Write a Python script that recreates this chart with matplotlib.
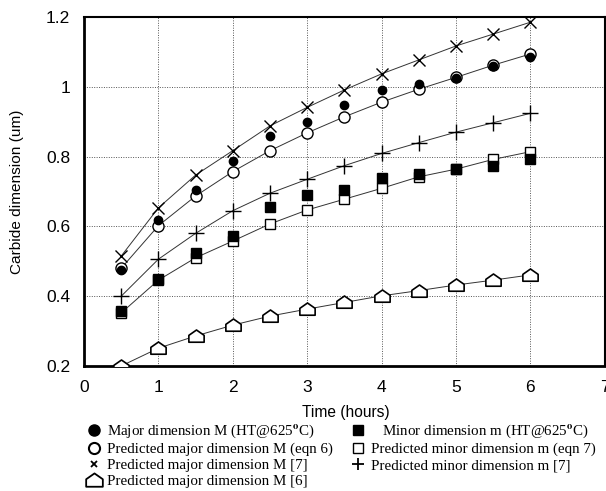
import matplotlib.pyplot as plt
from matplotlib.path import Path
from matplotlib.lines import Line2D

plt.rcParams['mathtext.fontset'] = 'stix'

time_h = [0.5, 1, 1.5, 2, 2.5, 3, 3.5, 4, 4.5, 5, 5.5, 6]

major_ht = [0.475, 0.618, 0.704, 0.787, 0.859, 0.900, 0.948, 0.991, 1.007, 1.024, 1.060, 1.084]
major_eqn6 = [0.480, 0.602, 0.687, 0.757, 0.817, 0.868, 0.914, 0.956, 0.993, 1.027, 1.062, 1.094]
major_ref7 = [0.515, 0.653, 0.747, 0.817, 0.888, 0.941, 0.991, 1.037, 1.077, 1.117, 1.151, 1.185]
major_ref6 = [0.200, 0.251, 0.286, 0.317, 0.343, 0.363, 0.382, 0.401, 0.416, 0.432, 0.446, 0.461]

minor_ht = [0.358, 0.448, 0.525, 0.572, 0.656, 0.690, 0.704, 0.738, 0.749, 0.764, 0.774, 0.793]
minor_eqn7 = [0.352, 0.446, 0.510, 0.558, 0.607, 0.647, 0.678, 0.709, 0.742, 0.764, 0.792, 0.814]
minor_ref7 = [0.400, 0.506, 0.580, 0.645, 0.695, 0.735, 0.774, 0.809, 0.840, 0.870, 0.897, 0.924]

# little house shaped marker for the [6] curve
house = Path([(-1, -0.75), (1, -0.75), (1, 0.15), (0, 0.85), (-1, 0.15), (-1, -0.75)],
             [Path.MOVETO, Path.LINETO, Path.LINETO, Path.LINETO, Path.LINETO, Path.CLOSEPOLY])

fig = plt.figure(figsize=(6.06, 4.91), dpi=100)
ax = fig.add_axes([0.1386, 0.2546, 0.8594, 0.7108])

lw = 0.7
lc = '#333333'

ax.plot(time_h, major_ref6, color=lc, lw=lw, marker=house, ms=11, mfc='white', mec='black', mew=1.2, zorder=3)
ax.plot(time_h, minor_eqn7, color=lc, lw=lw, marker='s', ms=7, mfc='white', mec='black', mew=1.0, zorder=3)
ax.plot(time_h, minor_ref7, color=lc, lw=lw, marker='+', ms=11, mec='black', mew=1.0, zorder=3)
ax.plot(time_h, major_eqn6, color=lc, lw=lw, marker='o', ms=8, mfc='white', mec='black', mew=1.0, zorder=3)
ax.plot(time_h, major_ref7, color=lc, lw=lw, marker='x', ms=9, mec='black', mew=1.0, zorder=3)
ax.plot(time_h, minor_ht, ls='none', marker='s', ms=7, color='black', zorder=4)
ax.plot(time_h, major_ht, ls='none', marker='o', ms=6, color='black', zorder=4)

ax.set_xlim(0, 7)
ax.set_ylim(0.2, 1.2)
ax.set_xticks(range(0, 8))
ax.set_yticks([0.2, 0.4, 0.6, 0.8, 1.0, 1.2])
ax.set_yticklabels(['0.2', '0.4', '0.6', '0.8', '1', '1.2'])
ax.tick_params(length=0, labelsize=12.5, pad=10)
for lab in ax.get_xticklabels() + ax.get_yticklabels():
    lab.set_fontfamily('Liberation Sans')

ax.grid(True, ls=(0, (1, 1.5)), color='#555555', lw=0.7)
ax.set_axisbelow(True)
for side in ['left', 'bottom']:
    ax.spines[side].set_linewidth(2.0)
for side in ['top', 'right']:
    ax.spines[side].set_linewidth(1.5)

fig.text(0.571, 1 - 412 / 491, 'Time (hours)', ha='center', va='center',
         fontsize=11.2, family='Liberation Sans')
fig.text(17 / 606, 0.61, 'Carbide dimension (um)', ha='center', va='center',
         rotation=90, fontsize=11.1, family='Liberation Sans')

deg = r'625$^{\mathbf{o}}$C'
left_handles = [
    Line2D([], [], ls='none', marker='o', ms=8, color='black'),
    Line2D([], [], ls='none', marker='o', ms=8, mfc='white', mec='black', mew=1.5),
    Line2D([], [], ls='none', marker='x', ms=5, mec='black', mew=1.3),
    Line2D([], [], ls='none', marker=house, ms=12, mfc='white', mec='black', mew=1.3),
]
left_labels = [
    'Major dimension M (HT@' + deg + ')',
    'Predicted major dimension M (eqn 6)',
    'Predicted major dimension M [7]',
    'Predicted major dimension M [6]',
]
right_handles = [
    Line2D([], [], ls='none', marker='s', ms=7, color='black'),
    Line2D([], [], ls='none', marker='s', ms=7, mfc='white', mec='black', mew=1.0),
    Line2D([], [], ls='none', marker='+', ms=8, mec='black', mew=1.3),
]
right_labels = [
    '   Minor dimension m (HT@' + deg + ')',
    'Predicted minor dimension m (eqn 7)',
    'Predicted minor dimension m [7]',
]

legend_font = {'family': 'Liberation Serif', 'size': 10.8}
leg1 = fig.legend(left_handles, left_labels, loc='upper left',
                  bbox_to_anchor=(86 / 606, 1 - 423 / 491), frameon=False,
                  prop=legend_font, handlelength=1.0, handletextpad=0.4,
                  labelspacing=0.15, borderpad=0, borderaxespad=0)
leg2 = fig.legend(right_handles, right_labels, loc='upper left',
                  bbox_to_anchor=(350 / 606, 1 - 423 / 491), frameon=False,
                  prop=legend_font, handlelength=1.0, handletextpad=0.4,
                  labelspacing=0.15, borderpad=0, borderaxespad=0)

fig.savefig('out.png', dpi=100)
